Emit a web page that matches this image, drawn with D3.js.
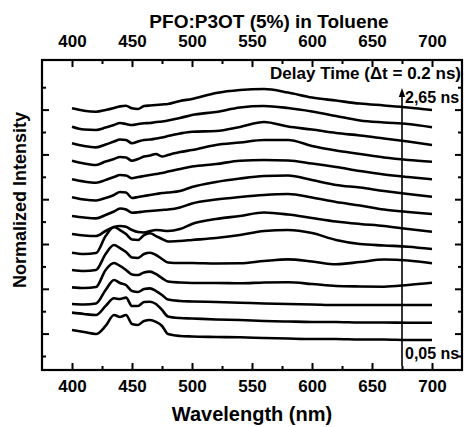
<!DOCTYPE html>
<html><head><meta charset="utf-8">
<script src="https://cdn.jsdelivr.net/npm/d3@7/dist/d3.min.js"></script>
<style>
body{margin:0;background:#fff}
text{font-family:"Liberation Sans",Arial,Helvetica,sans-serif;font-weight:bold;fill:#000}
</style>
</head><body>
<svg id="chart" width="465" height="427"></svg>
<script>
// Wavelength sampling (nm)
const wavelengths = [400,410,420,428,435,440,445,450,455,460,465,470,475,480,490,500,520,540,560,580,600,620,640,660,680,700];
// Delay labels (bottom -> top)
const delayLabels = ["0,05 ns","0,25 ns","0,45 ns","0,65 ns","0,85 ns","1,05 ns","1,25 ns","1,45 ns","1,65 ns","1,85 ns","2,05 ns","2,25 ns","2,45 ns","2,65 ns"];
// Offset normalized intensity spectra (arbitrary offset units)
const spec005 = [23.2,21.4,19.6,26.8,36.6,34.8,36.6,28.6,27.7,31.3,32.1,30.4,26.8,19.6,17.9,17.4,17.0,16.7,16.1,15.6,15.2,15.2,14.7,14.7,14.3,14.3];
const spec025 = [38.7,37.5,36.6,44.6,51.5,50.9,52.1,44.6,44.6,48.2,48.5,46.4,41.1,35.3,33.9,33.5,32.6,32.1,31.3,30.8,30.4,30.4,29.9,29.9,29.7,29.7];
const spec045 = [46.4,46.0,46.9,58.9,67.9,65.2,63.4,58.0,57.1,59.8,60.4,58.0,54.5,50.4,49.1,48.7,48.2,47.6,46.9,46.4,46.0,45.5,45.5,45.5,45.5,45.5];
const spec065 = [61.3,60.7,61.6,76.8,83.0,80.4,76.8,72.8,72.3,74.6,75.3,73.2,69.6,66.5,65.6,65.2,65.2,64.9,65.6,65.8,64.3,62.5,62.1,61.9,63.4,65.4];
const spec085 = [76.8,75.9,76.8,91.1,99.1,96.4,92.9,87.9,87.5,91.1,92.2,90.2,86.6,83.5,83.0,83.0,82.6,82.8,84.8,86.3,84.4,81.9,83.9,86.2,85.3,82.8];
const spec105 = [92.2,91.1,92.0,107.1,115.2,112.5,108.9,104.0,103.6,108.0,109.6,107.1,104.5,102.2,102.7,103.6,105.4,108.0,111.6,112.5,109.8,103.6,100.0,98.7,97.6,95.5];
const spec125 = [108.9,107.6,107.1,111.6,115.2,116.1,115.4,112.5,110.7,110.3,111.6,112.5,112.1,111.6,113.4,117.9,122.3,125.0,128.1,126.3,123.2,120.1,117.9,116.1,113.4,111.0];
const spec145 = [125.0,123.7,122.9,125.9,129.0,131.7,130.8,127.9,128.3,129.0,129.5,129.9,130.4,130.8,132.6,136.2,139.7,142.0,143.8,144.6,141.5,137.5,134.4,130.8,128.6,126.8];
const spec165 = [141.7,139.7,138.8,141.1,143.8,146.4,146.0,141.1,142.0,142.9,143.8,144.6,145.5,146.0,147.3,150.9,155.4,158.5,160.7,161.2,157.1,152.7,150.4,147.3,144.6,142.2];
const spec185 = [157.8,155.8,154.7,157.1,159.8,161.6,161.2,158.7,159.8,160.7,161.6,162.5,163.4,164.7,167.0,169.2,171.4,174.4,175.0,174.6,171.9,168.8,165.2,162.1,159.8,157.8];
const spec205 = [174.4,171.9,170.5,173.7,175.9,177.7,177.2,174.4,175.9,178.1,179.0,180.4,178.1,179.5,182.1,183.9,188.4,190.6,192.9,192.9,187.5,183.5,180.4,177.2,175.0,173.5];
const spec225 = [189.9,187.5,186.3,188.8,191.5,193.3,192.9,189.9,191.5,192.9,193.3,194.2,195.1,196.4,198.7,200.3,200.9,204.5,208.9,204.9,202.2,199.1,196.9,194.2,191.5,188.4];
const spec245 = [204.7,202.2,201.8,204.0,206.3,208.0,207.1,206.3,207.1,207.8,208.0,208.9,209.4,210.3,212.5,215.2,217.9,221.9,223.2,221.4,218.3,214.3,210.3,208.5,207.1,204.2];
const spec265 = [221.2,219.0,218.1,219.6,221.4,222.9,223.5,221.2,220.5,223.2,223.7,224.1,224.6,225.0,227.7,229.5,234.8,237.5,238.4,235.3,230.8,228.1,225.4,223.7,221.9,219.6];
const allSpectra = [spec005,spec025,spec045,spec065,spec085,spec105,spec125,spec145,spec165,spec185,spec205,spec225,spec245,spec265];

// Axis ticks
const xMajorTicks = [400,450,500,550,600,650,700];
const xMinorTicks = [425,475,525,575,625,675];
const yMajorTicks = [20,60,100,140,180,220];
const yMinorTicks = [0,40,80,120,160,200,240];

const titleText = "PFO:P3OT (5%) in Toluene";
const xLabel = "Wavelength (nm)";
const yLabel = "Normalized Intensity";
const delayTitle = "Delay Time (\u0394t = 0.2 ns)";
const arrowWavelength = 675;
const arrowRange = [-8.9, 239.3];

const svg = d3.select("#chart");
const L = 42, R = 462, T = 60, B = 370;
const x = d3.scaleLinear().domain([375, 725]).range([L, R]);
const y = d3.scaleLinear().domain([-12.5, 264.3]).range([B, T]);

// curves
const line = d3.line().x(d => x(d[0])).y(d => y(d[1])).curve(d3.curveMonotoneX);
svg.append("g").selectAll("path").data(allSpectra).join("path")
  .attr("d", s => line(s.map((v, i) => [wavelengths[i], v])))
  .attr("fill", "none").attr("stroke", "#000").attr("stroke-width", 2.6)
  .attr("stroke-linejoin", "round");

function styleAxis(g){
  g.select(".domain").remove();
  g.selectAll("line").attr("stroke","#000").attr("stroke-width",2);
  g.selectAll("text").style("font-size","17px").style("font-weight","bold")
   .style("font-family",'"Liberation Sans",Arial,sans-serif');
}
// bottom
svg.append("g").attr("transform",`translate(0,${B})`)
  .call(d3.axisBottom(x).tickValues(xMajorTicks).tickSize(-7).tickPadding(10).tickFormat(d3.format("d"))).call(styleAxis);
svg.append("g").attr("transform",`translate(0,${B})`)
  .call(d3.axisBottom(x).tickValues(xMinorTicks).tickSize(-4).tickFormat("")).call(styleAxis);
// top
svg.append("g").attr("transform",`translate(0,${T})`)
  .call(d3.axisTop(x).tickValues(xMajorTicks).tickSize(-7).tickPadding(13).tickFormat(d3.format("d"))).call(styleAxis);
svg.append("g").attr("transform",`translate(0,${T})`)
  .call(d3.axisTop(x).tickValues(xMinorTicks).tickSize(-4).tickFormat("")).call(styleAxis);
// left
svg.append("g").attr("transform",`translate(${L},0)`)
  .call(d3.axisLeft(y).tickValues(yMajorTicks).tickSize(-7).tickFormat("")).call(styleAxis);
svg.append("g").attr("transform",`translate(${L},0)`)
  .call(d3.axisLeft(y).tickValues(yMinorTicks).tickSize(-4).tickFormat("")).call(styleAxis);
// right
svg.append("g").attr("transform",`translate(${R},0)`)
  .call(d3.axisRight(y).tickValues(yMajorTicks).tickSize(-7).tickFormat("")).call(styleAxis);
svg.append("g").attr("transform",`translate(${R},0)`)
  .call(d3.axisRight(y).tickValues(yMinorTicks).tickSize(-4).tickFormat("")).call(styleAxis);

// frame
svg.append("rect").attr("x",L).attr("y",T).attr("width",R-L).attr("height",B-T)
  .attr("fill","none").attr("stroke","#000").attr("stroke-width",2.2);

// titles
svg.append("text").attr("x",269).attr("y",28).attr("text-anchor","middle").style("font-size","19px").text(titleText);
svg.append("text").attr("x",(L+R)/2).attr("y",421).attr("text-anchor","middle").style("font-size","20px").text(xLabel);
svg.append("text").attr("transform","translate(26,200) rotate(-90)").attr("text-anchor","middle").style("font-size","18px").text(yLabel);

// arrow annotation
const ax = x(arrowWavelength), aTop = y(arrowRange[1]);
svg.append("line").attr("x1",ax).attr("x2",ax)
  .attr("y1",y(arrowRange[0])).attr("y2",aTop+6)
  .attr("stroke","#000").attr("stroke-width",1.6);
svg.append("path").attr("d",`M${ax},${aTop} l-3.2,9 l6.4,0 z`).attr("fill","#000");
svg.append("text").attr("x",461).attr("y",79).attr("text-anchor","end").style("font-size","17px").text(delayTitle);
svg.append("text").attr("x",ax+3).attr("y",103).style("font-size","16px").text(delayLabels[13]);
svg.append("text").attr("x",ax+3).attr("y",359).style("font-size","16px").text(delayLabels[0]);
</script>
</body></html>
